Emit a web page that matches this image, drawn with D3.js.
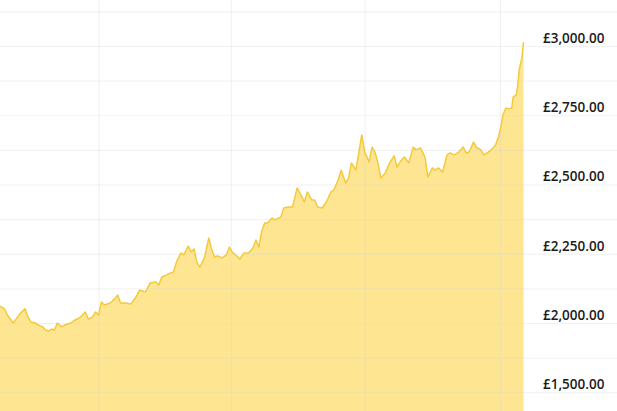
<!DOCTYPE html>
<html>
<head>
<meta charset="utf-8">
<script src="https://cdn.jsdelivr.net/npm/d3@7/dist/d3.min.js"></script>
<style>
  html, body { margin: 0; padding: 0; background: #fff; }
  svg { display: block; }
</style>
</head>
<body>
<svg id="chart" width="617" height="411"></svg>
<script>
// ---- data ----
const startDate = "2024-10-26";
// days since startDate
const dayOffsets = [0,3,5,9,12,14,17,19,21,24,26,29,31,33,35,37,39,42,44,48,51,54,58,60,63,65,67,69,71,75,78,80,82,85,89,92,95,99,102,106,108,110,113,116,118,120,123,125,128,130,132,134,136,139,142,144,146,148,151,154,156,158,161,163,166,169,172,174,176,178,180,182,185,187,191,193,196,199,202,204,207,209,212,214,216,219,222,225,227,230,232,235,237,239,242,244,246,248,251,253,255,257,259,262,265,268,270,272,275,278,281,283,286,289,291,294,296,298,301,304,306,309,312,315,317,319,322,324,327,329,332,334,337,339,341,342,344,346,348,349,351,352,353,355,356];
// price in GBP
const prices = [2061,2051,2029,2000,2022,2036,2051,2022,2004,2000,1993,1986,1975,1971,1978,1975,2000,1986,1993,2000,2011,2018,2040,2014,2022,2040,2029,2076,2065,2072,2087,2101,2072,2072,2069,2090,2119,2112,2144,2148,2137,2166,2173,2181,2184,2220,2253,2246,2278,2256,2267,2217,2202,2235,2307,2264,2238,2242,2235,2246,2274,2256,2242,2231,2253,2253,2271,2300,2274,2332,2361,2361,2379,2372,2383,2415,2419,2419,2487,2469,2437,2473,2444,2444,2419,2415,2437,2473,2480,2516,2552,2505,2523,2578,2552,2614,2679,2617,2581,2635,2617,2578,2523,2542,2578,2603,2563,2581,2599,2578,2635,2625,2632,2599,2527,2560,2552,2560,2545,2607,2614,2607,2617,2635,2614,2617,2653,2635,2625,2607,2617,2625,2643,2671,2718,2751,2776,2773,2776,2816,2823,2852,2913,2960,3014];
const gridValues = [1750,1875,2000,2125,2250,2375,2500,2625,2750,2875,3000,3125];
const tickValues = [1750,2000,2250,2500,2750,3000];
const tickLabels = ["£1,500.00","£2,000.00","£2,250.00","£2,500.00","£2,750.00","£3,000.00"];

// ---- chart ----
const W = 617, H = 411;
const svg = d3.select("#chart");
const parse = d3.utcParse("%Y-%m-%d");
const t0 = parse(startDate);
const data = dayOffsets.map((d, i) => ({ date: d3.utcDay.offset(t0, d), value: prices[i] }));

const x = d3.scaleUtc()
  .domain([t0, d3.utcDay.offset(t0, dayOffsets[dayOffsets.length - 1])])
  .range([0, 523.5]);
const y = d3.scaleLinear().domain([2000, 3000]).range([323, 46]);

// area
const area = d3.area().x(d => x(d.date)).y0(H).y1(d => y(d.value)).curve(d3.curveLinear);
svg.append("path").datum(data).attr("d", area).attr("fill", "#fde592");

// grid lines
const gy = d3.axisRight(y).tickValues(gridValues).tickSize(W).tickFormat("");
svg.append("g").attr("class", "gridy").call(gy)
  .call(g => g.select(".domain").remove())
  .call(g => g.selectAll("line").attr("stroke", "#d8d8d8").attr("stroke-opacity", 0.35));

const gx = d3.axisBottom(x).ticks(d3.utcMonth.every(3)).tickSize(H).tickFormat("");
svg.append("g").attr("class", "gridx").call(gx)
  .call(g => g.select(".domain").remove())
  .call(g => g.selectAll("line").attr("stroke", "#d8d8d8").attr("stroke-opacity", 0.35));

// line
const line = d3.line().x(d => x(d.date)).y(d => y(d.value)).curve(d3.curveLinear);
svg.append("path").datum(data).attr("d", line)
  .attr("fill", "none").attr("stroke", "#f4ca3c").attr("stroke-width", 1.5)
  .attr("stroke-linejoin", "round");

// y labels
const ax = d3.axisRight(y).tickValues(tickValues).tickSize(0).tickPadding(0)
  .tickFormat((d, i) => tickLabels[i]);
svg.append("g").attr("transform", "translate(543,-8)").call(ax)
  .call(g => g.select(".domain").remove())
  .call(g => g.selectAll("text")
    .attr("fill", "#1a1a1a")
    .attr("font-family", "'Open Sans', Lato, sans-serif")
    .attr("font-size", 13.5)
    .attr("font-weight", 600));
</script>
</body>
</html>
